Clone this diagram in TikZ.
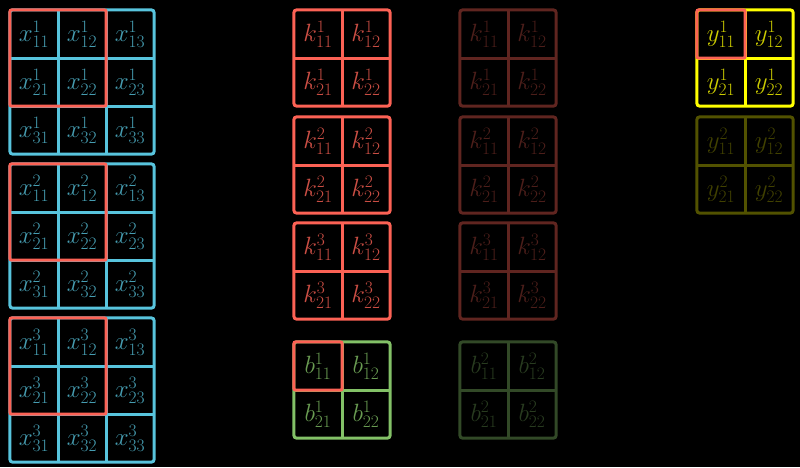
\RequirePackage{fix-cm}
\documentclass[tikz,border=0pt]{standalone}
\usetikzlibrary{calc}
\definecolor{InputBlue}{HTML}{58C4DD}
\definecolor{KernelRed}{HTML}{FC6255}
\definecolor{BiasGreen}{HTML}{83C167}
\definecolor{OutYellow}{HTML}{FFFF00}
% #1 name #2 top left corner #3 cells per side #4 letter #5 upper index #6 colour
\def\cellgrid#1#2#3#4#5#6{
  \foreach \row in {1,...,#3}{%
    \foreach \col in {1,...,#3}{%
      \node[cell,text=#6!80!black] (#1-\row\col) at ($(#2)+(48*\col-24,48*\row-24)$) {$#4^{#5}_{\row\col}$};
      \ifnum\col<#3 \draw[gridline,#6] (#1-\row\col.north east) -- (#1-\row\col.south east);\fi
      \ifnum\row<#3 \draw[gridline,#6] (#1-\row\col.south west) -- (#1-\row\col.south east);\fi
    }%
  }
  \draw[frame,#6] (#1-11.north west) rectangle (#1-#3#3.south east);
}

\begin{document}
\begin{tikzpicture}[x=1pt,y=-1pt, cell/.style={inner sep=0pt,minimum size=48pt,font=\fontsize{25}{29}\selectfont}, gridline/.style={line width=3pt}, frame/.style={line width=3pt,rounded corners=3pt}, hilite/.style={KernelRed,line width=3pt,rounded corners=2pt}]

\fill[black] (0,0) rectangle (800,467);

% input channels
\cellgrid{x1}{10,10}{3}{x}{1}{InputBlue}
\cellgrid{x2}{10,164}{3}{x}{2}{InputBlue}
\cellgrid{x3}{10,318}{3}{x}{3}{InputBlue}
\draw[hilite] (x1-11.north west) rectangle (x1-22.south east);
\draw[hilite] (x2-11.north west) rectangle (x2-22.south east);
\draw[hilite] (x3-11.north west) rectangle (x3-22.south east);

% first kernel and bias
\cellgrid{k1}{294,10}{2}{k}{1}{KernelRed}
\cellgrid{k2}{294,117}{2}{k}{2}{KernelRed}
\cellgrid{k3}{294,223}{2}{k}{3}{KernelRed}
\cellgrid{b1}{294,342}{2}{b}{1}{BiasGreen}
\draw[hilite] (b1-11.north west) rectangle (b1-11.south east);

% second kernel and bias, faded
\cellgrid{kf1}{460,10}{2}{k}{1}{KernelRed!38!black}
\cellgrid{kf2}{460,117}{2}{k}{2}{KernelRed!38!black}
\cellgrid{kf3}{460,223}{2}{k}{3}{KernelRed!38!black}
\cellgrid{bf}{460,342}{2}{b}{2}{BiasGreen!38!black}

% outputs
\cellgrid{y1}{697,10}{2}{y}{1}{OutYellow}
\draw[hilite] (y1-11.north west) rectangle (y1-11.south east);
\cellgrid{y2}{697,117}{2}{y}{2}{OutYellow!32!black}

\end{tikzpicture}
\end{document}
